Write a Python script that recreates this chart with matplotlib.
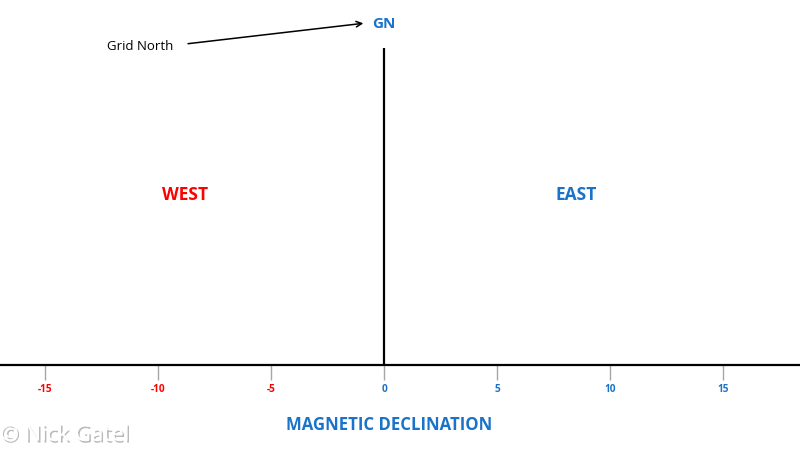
import matplotlib.pyplot as plt
import matplotlib.patheffects as pe

plt.rcParams['font.family'] = ['Open Sans', 'DejaVu Sans']

ticks = [-15, -10, -5, 0, 5, 10, 15]
tick_labels = ['-15', '-10', '-5', '0', '5', '10', '15']
west_color = '#ff0000'
east_color = '#1a73c8'

fig = plt.figure(figsize=(8, 4.49), dpi=100)
ax = fig.add_axes([0, 0, 1, 1])
ax.set_xlim(-17.0, 18.4)
ax.set_ylim(-84, 365)

# axes: bottom spine at zero, vertical line at 0
for s in ['top', 'right', 'left']:
    ax.spines[s].set_visible(False)
ax.spines['bottom'].set_position(('data', 0))
ax.spines['bottom'].set_linewidth(1.6)
ax.spines['bottom'].set_zorder(3)
ax.vlines(0, 0, 317, color='black', lw=1.6)

ax.set_yticks([])
ax.set_xticks(ticks)
ax.set_xticklabels(tick_labels, fontsize=7.3, fontweight='bold')
ax.tick_params(axis='x', length=10.5, width=1, color='#a6a6a6', pad=3)
for t, lbl in zip(ticks, ax.get_xticklabels()):
    lbl.set_color(west_color if t < 0 else east_color)

ax.text(-8.8, 170, 'WEST', color=west_color, fontsize=12.5, fontweight='bold',
        ha='center', va='center')
ax.text(8.5, 170, 'EAST', color=east_color, fontsize=12.5, fontweight='bold',
        ha='center', va='center')
ax.text(0, 341, 'GN', color=east_color, fontsize=11, fontweight='bold',
        ha='center', va='center')
ax.text(-10.8, 318, 'Grid North', color='black', fontsize=9.5,
        ha='center', va='center')
ax.annotate('', xy=(-0.8, 342), xytext=(-8.8, 321),
            arrowprops=dict(arrowstyle='->', color='black', lw=1.1))
ax.text(0.2, -60, 'MAGNETIC DECLINATION', color=east_color, fontsize=12.1,
        fontweight='bold', ha='center', va='center')

# watermark
ax.text(-17.0, -70, '\u00a9 Nick Gatel', color='white', fontsize=16,
        ha='left', va='center',
        path_effects=[pe.withSimplePatchShadow(offset=(1.2, -1.5), shadow_rgbFace='#777777', alpha=0.5),
                      pe.Normal()])

fig.savefig('out.png', dpi=100)
